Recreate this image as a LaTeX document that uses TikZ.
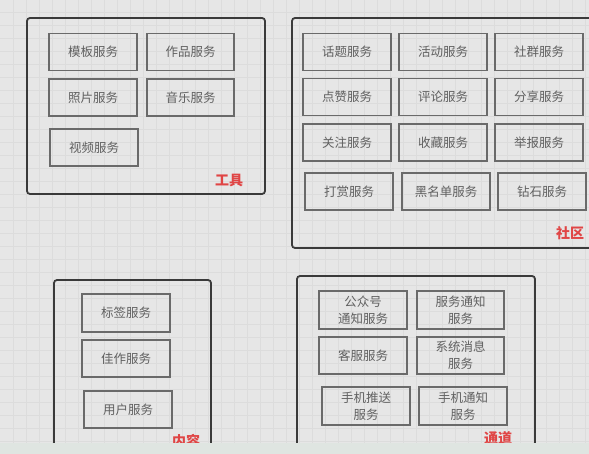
\documentclass[tikz,border=0pt]{standalone}
\usepackage{fontspec}
\setmainfont{Noto Sans CJK SC}
\newfontfamily\cjkfont{Noto Sans CJK SC}
\definecolor{bgc}{HTML}{E6E6E6}
\definecolor{gridc}{HTML}{DCDCDC}
\definecolor{outerc}{HTML}{3A3A3A}
\definecolor{innerc}{HTML}{6A6A6A}
\definecolor{txtc}{HTML}{606060}
\definecolor{redc}{HTML}{E04545}
\definecolor{stripc}{HTML}{DFE5E1}
\tikzset{
  outerbox/.style={draw=outerc, line width=1.8pt, rounded corners=3pt},
  svc/.style={draw=innerc, line width=1.1pt, minimum width=88pt, minimum height=37pt,
    inner sep=1pt, align=center, text=txtc, font=\cjkfont\fontsize{12.5}{17}\selectfont},
  grp/.style={text=redc, font=\cjkfont\bfseries\fontsize{14}{16}\selectfont},
}
\begin{document}
\begin{tikzpicture}[x=1pt,y=-1pt]
\useasboundingbox (0,0) rectangle (589,454);
\fill[bgc] (0,0) rectangle (589,454);
\foreach \gx in {13,26,...,589} \draw[gridc, line width=0.5pt] (\gx,0) -- (\gx,454);
\foreach \gy in {12,25,...,454} \draw[gridc, line width=0.5pt] (0,\gy) -- (589,\gy);

% 工具
\draw[outerbox] (27,18) rectangle (265,194);
\node[svc] (t1) at (93,52) {模板服务};
\node[svc, minimum width=87pt] (t2) at (190.5,52) {作品服务};
\node[svc] (t3) at (93,97.5) {照片服务};
\node[svc, minimum width=87pt] (t4) at (190.5,97.5) {音乐服务};
\node[svc] (t5) at (94,147.5) {视频服务};
\node[grp] (lt) at (229,181) {工具};

% 社区
\draw[outerbox] (292,18) rectangle (600,248);
\node[svc] (c1) at (347,52) {话题服务};
\node[svc] (c2) at (443,52) {活动服务};
\node[svc] (c3) at (539,52) {社群服务};
\node[svc] (c4) at (347,97) {点赞服务};
\node[svc] (c5) at (443,97) {评论服务};
\node[svc] (c6) at (539,97) {分享服务};
\node[svc] (c7) at (347,142.5) {关注服务};
\node[svc] (c8) at (443,142.5) {收藏服务};
\node[svc] (c9) at (539,142.5) {举报服务};
\node[svc] (c10) at (349,191.5) {打赏服务};
\node[svc] (c11) at (446,191.5) {黑名单服务};
\node[svc] (c12) at (542,191.5) {钻石服务};
\node[grp] (lc) at (570,233) {社区};

% 内容
\draw[outerbox] (54,280) rectangle (211,475);
\node[svc, minimum height=38pt] (n1) at (126,313) {标签服务};
\node[svc] (n2) at (126,358.5) {佳作服务};
\node[svc] (n3) at (128,409.5) {用户服务};
\node[grp] (ln) at (186,441) {内容};

% 通道
\draw[outerbox] (297,276) rectangle (535,475);
\node[svc, minimum height=38pt] (d1) at (363,310) {公众号\\通知服务};
\node[svc, minimum height=38pt, minimum width=87pt] (d2) at (460.5,310) {服务通知\\服务};
\node[svc] (d3) at (363,355.5) {客服服务};
\node[svc, minimum width=87pt] (d4) at (460.5,355.5) {系统消息\\服务};
\node[svc, minimum height=38pt] (d5) at (366,406) {手机推送\\服务};
\node[svc, minimum height=38pt] (d6) at (463,406) {手机通知\\服务};
\node[grp] (ld) at (498,438) {通道};

% bottom strip
\fill[stripc] (0,443) rectangle (589,454);
\end{tikzpicture}
\end{document}
